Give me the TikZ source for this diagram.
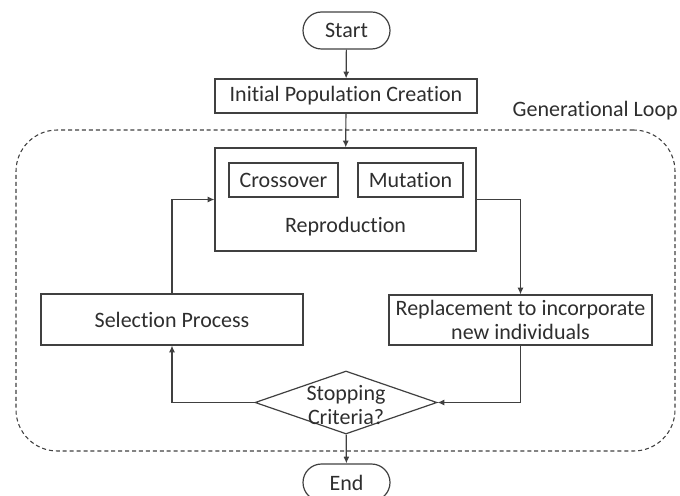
\documentclass[tikz,border=0pt]{standalone}
\usepackage{fontspec}
\setmainfont{Carlito}[Ligatures=NoCommon]
\usetikzlibrary{shapes.geometric,shapes.misc,arrows.meta}

\definecolor{ink}{HTML}{404040}
\definecolor{txt}{HTML}{2E2E2E}

\begin{document}
\begin{tikzpicture}[x=0.75pt,y=-0.75pt,
  every node/.style={text=txt,font=\fontsize{16.5}{18.5}\selectfont},
  box/.style={draw=ink,line width=0.9pt,rectangle,inner sep=0pt,align=center},
  terminal/.style={draw=ink,line width=0.9pt,rounded rectangle,inner sep=0pt,
    minimum width=87*0.75pt,minimum height=37*0.75pt},
  decision/.style={draw=ink,line width=0.9pt,diamond,inner sep=0pt,
    minimum width=182*0.75pt,minimum height=63*0.75pt},
  loopbox/.style={draw=ink,line width=0.8pt,dash pattern=on 3pt off 2.2pt,
    rounded corners=31pt,inner sep=0pt},
  flow/.style={draw=ink,line width=0.9pt,-{Latex[length=5pt,width=4.5pt]}}]

\useasboundingbox (0,0) rectangle (680,495);
\clip (0,0) rectangle (680,495);

% generational loop frame
\node[loopbox,minimum width=659*0.75pt,minimum height=321*0.75pt] (loop) at (345.5,290.5) {};
\node[anchor=east,inner sep=0pt] (looplabel) at (678,111) {Generational Loop};

% terminals
\node[terminal] (start) at (346.5,30.5) {Start};
\node[terminal] (finish) at (346.5,482.5) {End};

% process boxes
\node[box,minimum width=262*0.75pt,minimum height=34*0.75pt] (init) at (346,96) {Initial Population Creation};
\node[box,minimum width=261*0.75pt,minimum height=103*0.75pt,
  label={[yshift=-27.5*0.75pt]center:Reproduction}] (repro) at (345.5,199.5) {};
\node[box,minimum width=109*0.75pt,minimum height=34*0.75pt] (cross) at (283.5,180) {Crossover};
\node[box,minimum width=105*0.75pt,minimum height=34*0.75pt] (mut) at (410.5,180) {Mutation};
\node[box,minimum width=262*0.75pt,minimum height=51*0.75pt] (select) at (172,319.5) {Selection Process};
\node[box,minimum width=263*0.75pt,minimum height=50*0.75pt] (replace) at (520.5,320) {Replacement to incorporate\\new individuals};
\node[decision,label={[align=center,yshift=-2.5*0.75pt]center:Stopping\\Criteria?}] (stop) at (346,402.5) {};

% connectors
\draw[flow] (start) -- (init);
\draw[flow] (init) -- (repro);
\draw[flow] (select.north) |- (repro.west);
\draw[flow] (repro.east) -| (replace.north);
\draw[flow] (replace.south) |- (stop.east);
\draw[flow] (stop.west) -| (select.south);
\draw[flow] (stop) -- (finish);
\end{tikzpicture}
\end{document}
